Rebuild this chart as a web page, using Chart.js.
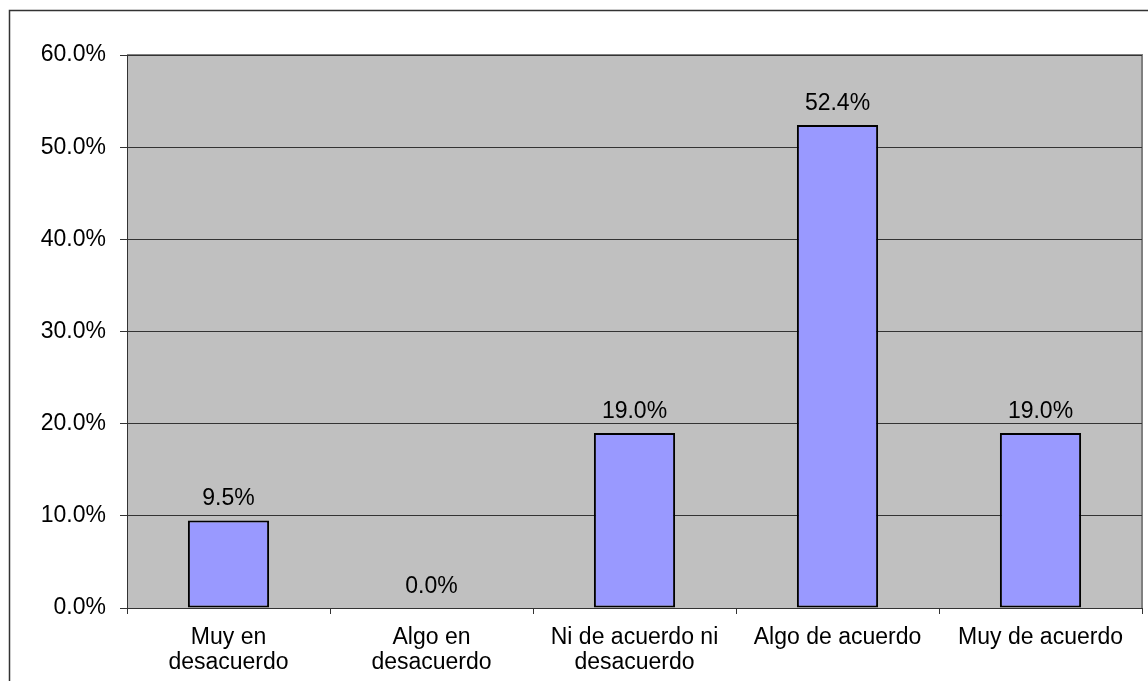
<!DOCTYPE html>
<html>
<head>
<meta charset="utf-8">
<script src="https://cdn.jsdelivr.net/npm/chart.js@4/dist/chart.umd.min.js"></script>
<style>
html,body{margin:0;padding:0;background:#fff;}
#wrap{position:relative;width:1148px;height:681px;}
</style>
</head>
<body>
<div id="wrap"><canvas id="c" width="1148" height="681"></canvas></div>
<script>
const categories = [["Muy en","desacuerdo"],["Algo en","desacuerdo"],["Ni de acuerdo ni","desacuerdo"],"Algo de acuerdo","Muy de acuerdo"];
const values = [9.5, 0.0, 19.0, 52.4, 19.0];
const yTicks = [0, 10, 20, 30, 40, 50, 60];

const FONT = "'Liberation Sans', Arial, sans-serif";

const bgPlugin = {
  id: 'bg',
  beforeDraw(chart) {
    const ctx = chart.ctx, a = chart.chartArea;
    ctx.save();
    ctx.fillStyle = '#fff';
    ctx.fillRect(0, 0, chart.width, chart.height);
    ctx.strokeStyle = '#333';
    ctx.lineWidth = 1.5;
    ctx.strokeRect(9.5, 10.5, chart.width + 20, chart.height + 20);
    ctx.fillStyle = '#C0C0C0';
    ctx.fillRect(a.left, a.top, a.right - a.left, a.bottom - a.top);
    ctx.strokeStyle = '#808080';
    ctx.lineWidth = 2;
    ctx.beginPath();
    ctx.moveTo(a.left, a.top);
    ctx.lineTo(a.right, a.top);
    ctx.lineTo(a.right, a.bottom);
    ctx.stroke();
    ctx.restore();
  }
};

const labelPlugin = {
  id: 'vlabels',
  afterDatasetsDraw(chart) {
    const ctx = chart.ctx;
    const meta = chart.getDatasetMeta(0);
    ctx.save();
    ctx.font = "23px " + FONT;
    ctx.fillStyle = '#000';
    ctx.textAlign = 'center';
    ctx.textBaseline = 'bottom';
    meta.data.forEach((bar, i) => {
      ctx.fillText(values[i].toFixed(1) + '%', bar.x, bar.y - 10);
    });
    ctx.restore();
  }
};

new Chart(document.getElementById('c'), {
  type: 'bar',
  data: {
    labels: categories,
    datasets: [{
      data: values,
      backgroundColor: '#9999FF',
      borderColor: '#000',
      borderWidth: 2,
      borderSkipped: false,
      barPercentage: 0.4,
      categoryPercentage: 1.0
    }]
  },
  options: {
    responsive: false,
    animation: false,
    devicePixelRatio: 1,
    layout: { padding: { top: 55, right: 6, left: 0, bottom: 0 } },
    plugins: { legend: { display: false }, tooltip: { enabled: false } },
    scales: {
      x: {
        grid: { display: true, drawOnChartArea: false, drawTicks: true, tickLength: 6, tickColor: '#333', offset: true },
        border: { display: true, color: '#333', width: 1 },
        ticks: { color: '#000', font: { family: FONT, size: 23, lineHeight: 1.05 }, padding: 12, maxRotation: 0, autoSkip: false },
        afterFit(s) { s.height = 73; }
      },
      y: {
        min: 0, max: 60,
        afterBuildTicks(s) { s.ticks = yTicks.map(v => ({ value: v })); },
        grid: { color: '#333', tickColor: '#333', tickLength: 7, lineWidth: 1 },
        border: { display: true, color: '#333', width: 1 },
        ticks: { color: '#000', font: { family: FONT, size: 23 }, padding: 14, callback: v => v.toFixed(1) + '%' },
        afterFit(s) { s.width = 127; }
      }
    }
  },
  plugins: [bgPlugin, labelPlugin]
});
</script>
</body>
</html>
